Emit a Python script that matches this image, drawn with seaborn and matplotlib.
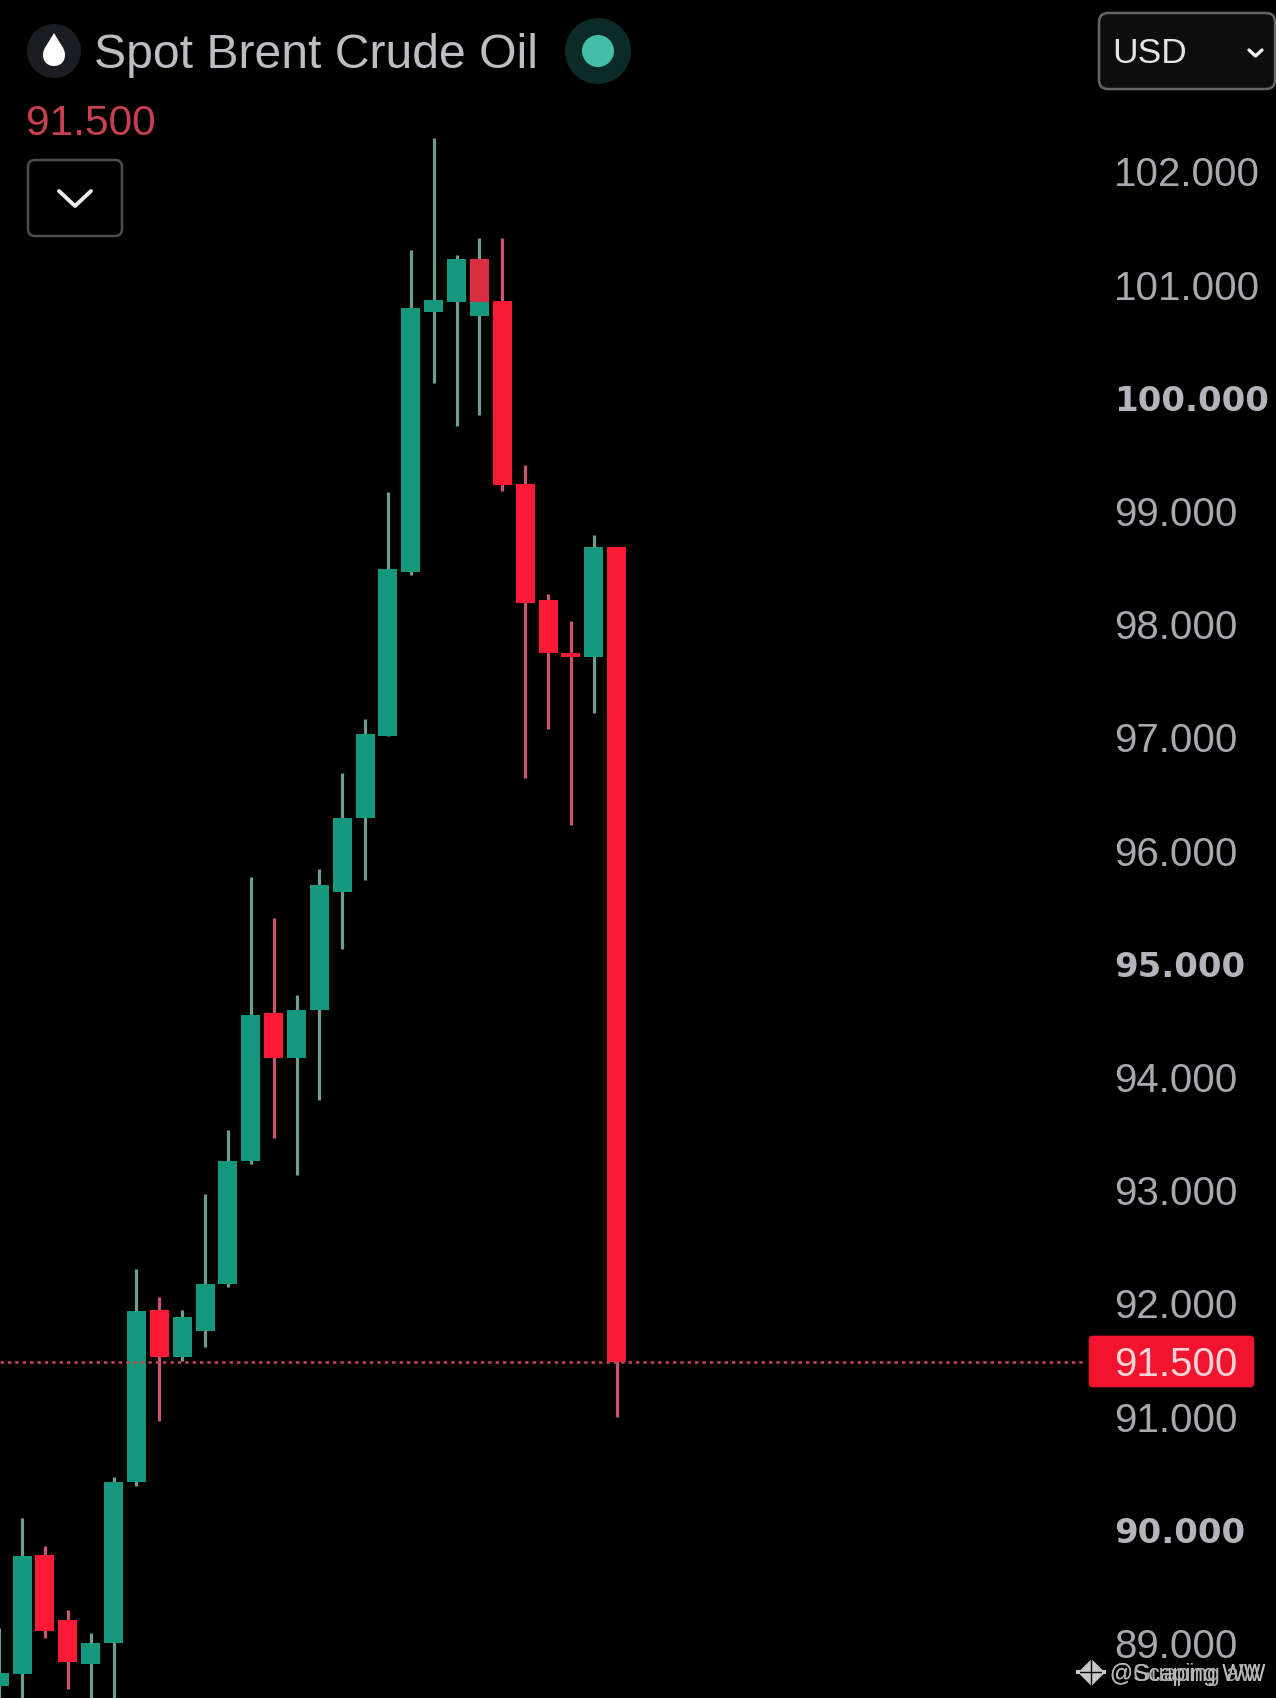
import numpy as np
import pandas as pd
import matplotlib
matplotlib.use("Agg")
import matplotlib.pyplot as plt
from matplotlib.patches import Circle, FancyBboxPatch, PathPatch
from matplotlib.path import Path
from matplotlib.transforms import ScaledTranslation
import seaborn as sns

# candle data
candle_x = [-1, 0, 1, 2, 3, 4, 5, 6, 7, 8, 9, 10, 11, 12, 13, 14, 15, 16, 17, 18, 19, 20, 21, 22, 23, 24, 25, 26]
highs = [89.15, 90.12, 89.87, 89.31, 89.10, 90.48, 92.32, 92.07, 91.96, 92.98, 93.55, 95.78, 95.42, 94.74,
         95.85, 96.70, 97.18, 99.18, 101.32, 102.31, 101.28, 101.43, 101.43, 99.42, 98.28, 98.04, 98.80, 98.70]
body_tops = [88.75, 89.78, 89.79, 89.22, 89.02, 90.44, 91.95, 91.96, 91.90, 92.19, 93.27, 94.56, 94.58, 94.61,
             95.71, 96.30, 97.05, 98.50, 100.81, 100.88, 101.24, 101.24, 100.87, 99.25, 98.23, 97.76, 98.70, 98.70]
body_bottoms = [88.64, 88.74, 89.12, 88.85, 88.83, 89.02, 90.44, 91.54, 91.54, 91.77, 92.19, 93.27, 94.18, 94.18,
                94.61, 95.65, 96.30, 97.03, 98.48, 100.77, 100.86, 100.74, 99.245, 98.20, 97.76, 97.73, 97.73, 91.50]
lows = [88.40, 88.40, 89.06, 88.61, 88.40, 88.40, 90.40, 90.98, 91.51, 91.63, 92.16, 93.25, 93.48, 93.15,
        93.81, 95.15, 95.76, 97.03, 98.45, 100.15, 99.77, 99.86, 99.19, 96.66, 97.09, 96.24, 97.23, 91.01]
directions = ["up", "up", "down", "down", "up", "up", "up", "down", "up", "up", "up", "up", "down", "up",
              "up", "up", "up", "up", "up", "up", "up", "up", "down", "down", "down", "down", "up", "down"]

# red candle sitting over the green one at x=20
overlay_x = [20]
overlay_top = [101.24]
overlay_bottom = [100.86]

last_price = 91.5
tick_values = [102, 101, 100, 99, 98, 97, 96, 95, 94, 93, 92, 91, 90, 89]
bold_ticks = [100, 95, 90]

W, H = 1276, 1698
GREEN = "#16987f"
RED = "#fb1a35"
GREEN_WICK = "#6f9f8c"
RED_WICK = "#c9566a"
LABEL = "#a8a8b0"

sns.set_theme(style="dark", rc={"axes.facecolor": "black", "figure.facecolor": "black"})
plt.rcParams["font.family"] = ["Liberation Sans", "DejaVu Sans"]

df = pd.DataFrame({"x": candle_x, "high": highs, "top": body_tops, "bottom": body_bottoms,
                   "low": lows, "direction": directions})
df["height"] = df["top"] - df["bottom"]

fig = plt.figure(figsize=(W / 100, H / 100), dpi=100)
ax = fig.add_axes([0, 0, 1, 1])

# wicks
for direction, color in [("up", GREEN_WICK), ("down", RED_WICK)]:
    part = df[df["direction"] == direction]
    wicks = part.melt(id_vars="x", value_vars=["high", "low"], value_name="price")
    sns.lineplot(data=wicks, x="x", y="price", units="x", estimator=None, color=color,
                 linewidth=2.3, solid_capstyle="butt", legend=False, ax=ax, zorder=2)

# bodies
for direction, color in [("up", GREEN), ("down", RED)]:
    part = df[df["direction"] == direction].sort_values("x")
    sns.barplot(data=part, x="x", y="height", bottom=part["bottom"].values, native_scale=True,
                width=0.83, color=color, saturation=1, errorbar=None, linewidth=0, ax=ax, zorder=3)

over = pd.DataFrame({"x": overlay_x, "height": np.array(overlay_top) - np.array(overlay_bottom)})
sns.barplot(data=over, x="x", y="height", bottom=overlay_bottom, native_scale=True, width=0.83,
            color="#d92f40", saturation=1, errorbar=None, linewidth=0, ax=ax, zorder=4)

# last price line
ax.axhline(last_price, xmin=0, xmax=1085 / W, color="#bd4450", linewidth=1.9,
           linestyle=(0, (1.3, 1.5)), zorder=5)

ax.set_xlim(-0.965, 54.83)
ax.set_ylim(88.53, 103.53)
ax.set_xlabel("")
ax.set_ylabel("")
ax.set_xticks([])
ax.grid(False)
for spine in ax.spines.values():
    spine.set_visible(False)

ax.yaxis.tick_right()
ax.set_yticks(tick_values)
ax.set_yticklabels([f"{v:.3f}" for v in tick_values])
ax.tick_params(axis="y", length=0, pad=-(W - 1114) * 0.72, labelsize=29, labelcolor=LABEL)
nudge = ScaledTranslation(0, 1.7 / 100, fig.dpi_scale_trans)
for label, v in zip(ax.get_yticklabels(), tick_values):
    label.set_ha("left")
    label.set_transform(label.get_transform() + nudge)
    if v in bold_ticks:
        # the bold figures are wider than Liberation's
        label.set_family("DejaVu Sans")
        label.set_fontweight("bold")
        label.set_fontsize(24.5)
        label.set_color("#b4b4bc")

# app chrome on top, in pixel coordinates
ui = fig.add_axes([0, 0, 1, 1])
ui.set_xlim(0, W)
ui.set_ylim(H, 0)
ui.axis("off")
ui.patch.set_alpha(0)

ui.add_patch(Circle((54, 51), 27, color="#1b1d22", lw=0))
drop = Path([(54, 33), (60, 44), (65, 48), (65, 55), (65, 62), (60, 66), (54, 66), (48, 66), (43, 62), (43, 55),
             (43, 48), (48, 44), (54, 33)],
            [Path.MOVETO] + [Path.CURVE4] * 12)
ui.add_patch(PathPatch(drop, facecolor="white", lw=0))
ui.text(94, 50, "Spot Brent Crude Oil", color="#bdbdc4", fontsize=34.7, va="center_baseline", ha="left")
ui.add_patch(Circle((598, 51), 33, color="#0b2a28", lw=0))
ui.add_patch(Circle((598, 51), 16, color="#43bfa6", lw=0))

ui.text(26, 119, "91.500", color="#c8404f", fontsize=30.5, va="center_baseline", ha="left")

ui.add_patch(FancyBboxPatch((32, 164), 86, 68, boxstyle="round,pad=4,rounding_size=7",
                            facecolor="black", edgecolor="#4c4c4c", lw=1.8))
ui.plot([59, 75, 91], [191, 206, 191], color="#eeeeee", lw=2.8, solid_capstyle="round")

ui.add_patch(FancyBboxPatch((1103, 17), 168, 68, boxstyle="round,pad=4,rounding_size=9",
                            facecolor="#0d0d0d", edgecolor="#666666", lw=1.8))
ui.text(1112, 50, "USD", color="#e4e4e8", fontsize=25.5, va="center_baseline", ha="left")
ui.plot([1249, 1255.5, 1262], [50, 56, 50], color="#f0f0f0", lw=2.4, solid_capstyle="round")

ui.add_patch(FancyBboxPatch((1092, 1339), 159, 45, boxstyle="round,pad=3,rounding_size=4",
                            facecolor="#f0142f", edgecolor="#f0142f", lw=0.5))
ui.text(1114, 1361, "91.500", color="#f6d5d9", fontsize=29, va="center_baseline", ha="left")

# watermark
ui.scatter([1091], [1672], marker="D", s=190, color="#c8c8c8", linewidths=0, zorder=3)
ui.plot([1077, 1105], [1672, 1672], color="black", lw=1, zorder=4)
ui.plot([1091, 1091], [1658, 1686], color="black", lw=1, zorder=4)
ui.scatter([1078, 1104], [1672, 1672], marker="s", s=8, color="#c8c8c8", linewidths=0, zorder=5)
ui.text(1110, 1672, "@Scaping WW", color="#c0c0c0", fontsize=16.5, va="center_baseline", ha="left")
ui.text(1110, 1672, "@Guaping aW", color="#b0b0b0", fontsize=16.5, va="center_baseline", ha="left")

fig.savefig("out.png", dpi=100, facecolor="black")
